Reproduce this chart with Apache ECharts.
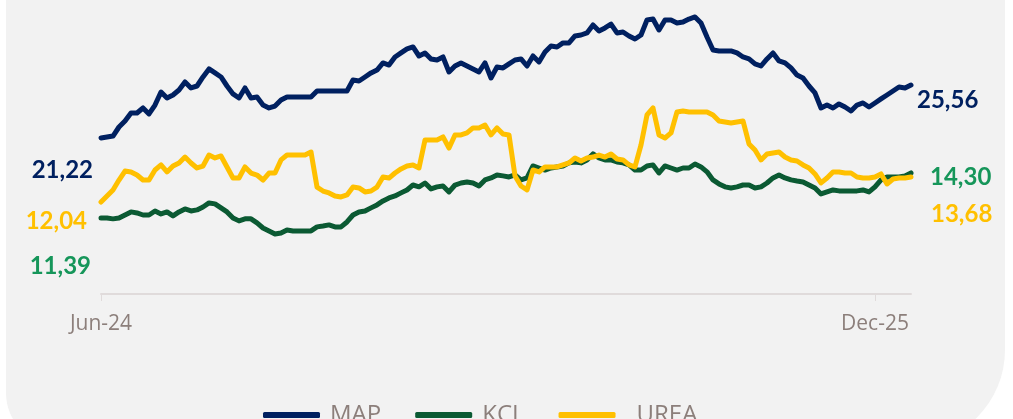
<!DOCTYPE html>
<html lang="en">
<head>
    <meta charset="UTF-8">
    <title>MAP KCL UREA</title>
    <script type="text/javascript" src="https://cdn.jsdelivr.net/npm/echarts@6/dist/echarts.min.js"></script>
    <style>
        html, body { margin: 0; padding: 0; background: #ffffff; }
    </style>
</head>
<body>
    <div id="container" style="width:1013px;height:419px"></div>

    <script type="text/javascript">
        // x positions: only two labelled ticks
        var tickLabels = ['Jun-24', 'Dec-25'];
        var tickIndex = [0, 129];

        var mapValues = [
            21.22, 21.30, 21.38, 22.12, 22.61, 23.27, 23.27, 23.68, 23.19, 23.92,
            24.99, 24.50, 24.74, 25.15, 25.81, 25.32, 25.48, 26.22, 26.88, 26.55,
            26.22, 25.48, 24.83, 24.50, 25.32, 24.50, 24.58, 23.92, 23.68, 23.84,
            24.33, 24.58, 24.58, 24.58, 24.58, 24.58, 25.07, 25.07, 25.07, 25.07,
            25.07, 25.07, 25.97, 25.89, 26.22, 26.55, 26.79, 27.37, 27.20, 27.86,
            28.19, 28.52, 28.68, 27.94, 28.19, 27.70, 27.61, 27.86, 26.63, 27.12,
            27.37, 27.12, 26.88, 26.63, 27.37, 26.14, 27.04, 26.96, 27.29, 27.61,
            27.70, 27.12, 27.94, 27.45, 28.27, 28.76, 28.68, 29.01, 29.01, 29.58,
            29.66, 29.83, 30.48, 29.99, 30.24, 30.56, 29.83, 29.91, 29.58, 29.33,
            29.66, 30.89, 30.97, 30.07, 30.89, 30.89, 30.65, 30.73, 30.97, 31.14,
            30.65, 29.50, 28.43, 28.35, 28.35, 28.35, 28.19, 27.86, 27.70, 27.29,
            27.12, 27.70, 28.19, 27.53, 27.37, 26.96, 26.38, 26.14, 25.48, 24.91,
            23.68, 23.92, 23.68, 24.01, 23.76, 23.43, 23.92, 24.09, 23.76, 24.09,
            24.42, 24.74, 25.07, 25.40, 25.32, 25.56
        ];

        var kclValues = [
            11.39, 11.39, 11.33, 11.39, 11.58, 11.78, 11.71, 11.58, 11.58, 11.84,
            11.65, 11.78, 11.52, 11.78, 11.97, 11.84, 11.91, 12.10, 12.36, 12.30,
            12.04, 11.78, 11.39, 11.20, 11.33, 11.33, 11.07, 10.74, 10.55, 10.35,
            10.42, 10.61, 10.55, 10.55, 10.55, 10.55, 10.81, 10.87, 10.94, 10.81,
            10.81, 11.13, 11.58, 11.78, 11.84, 12.04, 12.23, 12.49, 12.68, 12.81,
            13.01, 13.20, 13.52, 13.40, 13.65, 13.27, 13.40, 13.46, 13.07, 13.52,
            13.65, 13.72, 13.65, 13.46, 13.85, 13.98, 14.17, 14.11, 14.04, 14.17,
            13.85, 13.98, 14.75, 14.62, 14.49, 14.62, 14.69, 14.75, 14.95, 15.01,
            14.95, 15.14, 15.53, 15.27, 15.14, 15.14, 15.01, 14.95, 14.82, 14.49,
            14.49, 14.75, 14.82, 14.30, 14.75, 14.62, 14.49, 14.62, 14.62, 14.88,
            14.69, 14.37, 13.85, 13.59, 13.40, 13.33, 13.40, 13.52, 13.52, 13.33,
            13.40, 13.65, 13.98, 14.17, 13.98, 13.85, 13.78, 13.72, 13.52, 13.33,
            12.94, 13.07, 13.20, 13.14, 13.14, 13.14, 13.14, 13.20, 13.07, 13.40,
            13.85, 14.04, 14.04, 14.04, 14.11, 14.30
        ];

        var ureaValues = [
            12.04, 12.43, 12.83, 13.48, 14.07, 14.01, 13.81, 13.48, 13.48, 14.14,
            14.47, 14.01, 14.40, 14.60, 14.99, 14.60, 14.27, 14.40, 15.12, 14.93,
            15.06, 14.34, 13.61, 13.61, 14.34, 13.94, 13.81, 13.48, 13.94, 13.94,
            14.80, 15.12, 15.12, 15.12, 15.12, 15.32, 13.02, 12.76, 12.63, 12.43,
            12.37, 12.50, 13.02, 12.96, 12.70, 12.76, 13.02, 13.68, 13.61, 13.94,
            14.21, 14.40, 14.47, 14.27, 16.11, 16.11, 16.11, 16.31, 15.58, 16.44,
            16.44, 16.57, 16.90, 16.90, 17.09, 16.44, 16.90, 16.50, 16.44, 13.75,
            13.09, 12.83, 14.14, 14.01, 14.34, 14.34, 14.34, 14.47, 14.60, 14.93,
            14.73, 14.93, 14.99, 15.12, 14.99, 15.19, 14.86, 14.80, 14.47, 14.34,
            15.78, 17.75, 18.21, 16.44, 16.24, 16.57, 17.95, 18.01, 17.95, 17.95,
            17.95, 17.95, 17.75, 17.36, 17.29, 17.22, 17.29, 17.36, 15.85, 15.45,
            14.80, 15.19, 15.26, 15.32, 14.99, 14.80, 14.73, 14.47, 14.27, 13.88,
            13.29, 13.61, 14.01, 14.01, 13.94, 13.94, 13.68, 13.61, 13.61, 13.68,
            13.88, 13.22, 13.55, 13.61, 13.61, 13.68
        ];

        var categories = [];
        for (var i = 0; i < mapValues.length; i++) {
            categories.push(String(i));
        }

        var NAVY = '#002060';
        var GREEN = '#0b5a33';
        var GREEN_LABEL = '#16965a';
        var GOLD = '#ffc000';
        var AXIS_TEXT = '#8c7f7b';
        var LABEL_FONT = 'Lato';
        var LABEL_SIZE = 24;

        function fmt(v) {
            return v.toFixed(2).replace('.', ',');
        }

        // first point carries the left-hand label
        function withStartLabel(values, color, offset) {
            return values.map(function (v, idx) {
                if (idx !== 0) return v;
                return {
                    value: v,
                    label: {
                        show: true,
                        position: 'left',
                        offset: offset,
                        color: color,
                        fontFamily: LABEL_FONT,
                        fontWeight: 'bold',
                        fontSize: LABEL_SIZE,
                        formatter: function (p) { return fmt(p.value); }
                    }
                };
            });
        }

        function makeSeries(name, values, axis, color, labelColor, startOffset, endOffset) {
            return {
                name: name,
                type: 'line',
                yAxisIndex: axis,
                data: withStartLabel(values, labelColor, startOffset),
                symbol: 'circle',
                symbolSize: 0,
                showSymbol: true,
                showAllSymbol: true,
                color: color,
                lineStyle: { width: 5, color: color, cap: 'round', join: 'round' },
                endLabel: {
                    show: true,
                    offset: endOffset,
                    color: labelColor,
                    fontFamily: LABEL_FONT,
                    fontWeight: 'bold',
                    fontSize: LABEL_SIZE,
                    formatter: function (p) { return fmt(p.value); }
                }
            };
        }

        var dom = document.getElementById('container');
        var myChart = echarts.init(dom);

        var option = {
            animation: false,
            backgroundColor: '#ffffff',
            graphic: [{
                type: 'rect',
                z: -10,
                silent: true,
                shape: { x: 6, y: -60, width: 999, height: 505, r: [0, 0, 95, 52] },
                style: { fill: '#f2f2f2' }
            }],
            grid: { left: 101, right: 102, top: 10, bottom: 125 },
            legend: {
                left: 258,
                top: 398,
                itemWidth: 57,
                itemHeight: 6,
                itemGap: 34,
                icon: 'roundRect',
                textStyle: { color: AXIS_TEXT, fontSize: 24, fontFamily: 'Open Sans', padding: [0, 0, 0, 5] },
                data: ['MAP', 'KCL', { name: 'UREA', textStyle: { padding: [0, 0, 0, 16] } }]
            },
            xAxis: {
                type: 'category',
                boundaryGap: false,
                data: categories,
                axisLine: { lineStyle: { color: '#e0dbdb', width: 2 } },
                axisTick: {
                    interval: function (idx) { return tickIndex.indexOf(idx) >= 0; },
                    length: 7,
                    lineStyle: { color: '#e0dbdb', width: 1 }
                },
                axisLabel: {
                    interval: function (idx) { return tickIndex.indexOf(idx) >= 0; },
                    formatter: function (v, idx) { return tickLabels[tickIndex.indexOf(idx)]; },
                    margin: 20,
                    color: AXIS_TEXT,
                    fontFamily: 'Open Sans',
                    fontSize: 21
                },
                splitLine: { show: false }
            },
            yAxis: [
                { type: 'value', min: 8.43, max: 31.71, show: false },
                { type: 'value', min: 6.47, max: 24.84, show: false },
                { type: 'value', min: 6.00, max: 24.64, show: false }
            ],
            series: [
                makeSeries('MAP', mapValues, 0, NAVY, NAVY, [-3, 32], [-2, 15]),
                makeSeries('KCL', kclValues, 1, GREEN, GREEN_LABEL, [-5, 48], [11, 4]),
                makeSeries('UREA', ureaValues, 2, GOLD, GOLD, [-9, 19], [12, 37])
            ]
        };

        myChart.setOption(option);
    </script>
</body>
</html>
